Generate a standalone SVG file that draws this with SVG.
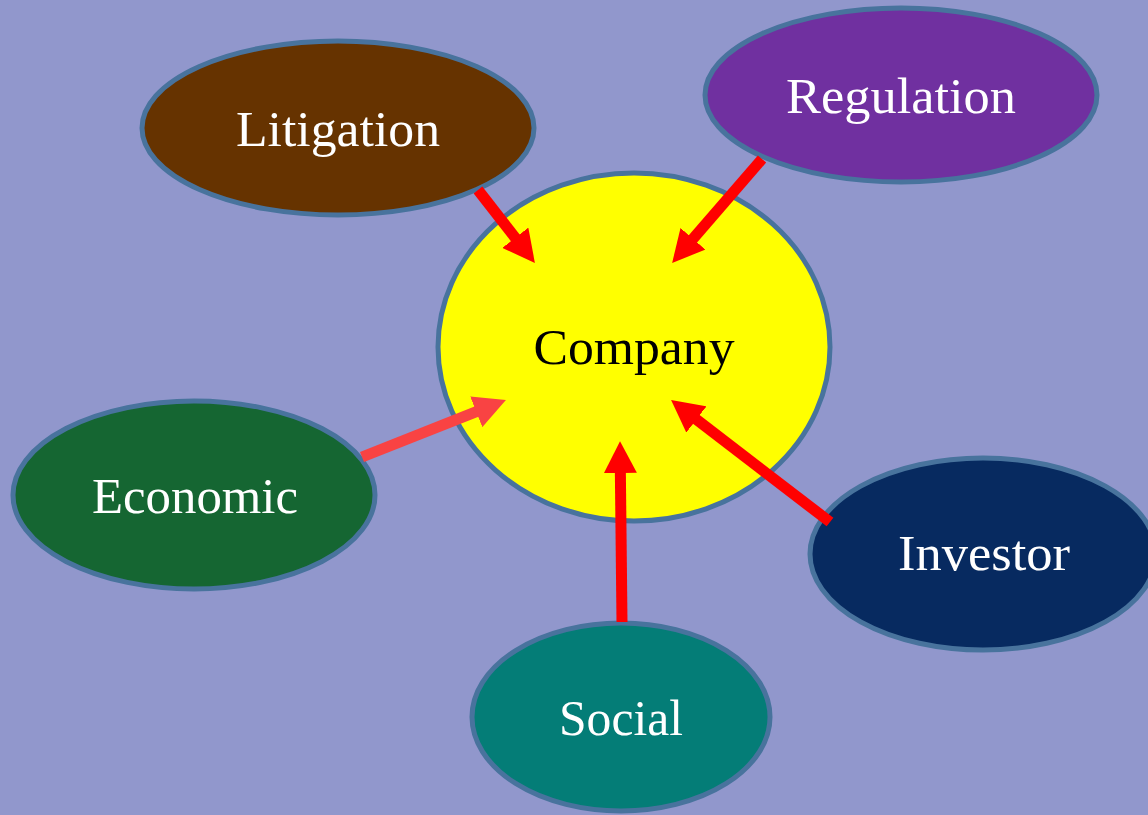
<svg xmlns="http://www.w3.org/2000/svg" width="1148" height="815" viewBox="0 0 1148 815">
<defs>
<style>
.node ellipse{stroke:#48739D;stroke-width:5}
.node text{font-family:"Liberation Serif","DejaVu Serif",serif;font-size:50px;text-anchor:middle;fill:#FFFFFF}
.conn line{stroke-width:11;stroke-linecap:butt}
.red{stroke:#FF0000}
.lred{stroke:#F94343}
</style>
<marker id="ah" viewBox="0 0 2.9 3.0" refX="0.64" refY="1.5" markerWidth="2.9" markerHeight="3.0" orient="auto" markerUnits="strokeWidth">
<path d="M0,0 L2.9,1.5 L0,3.0 z" fill="#FF0000"/>
</marker>
<marker id="ahl" viewBox="0 0 2.9 3.0" refX="0.64" refY="1.5" markerWidth="2.9" markerHeight="3.0" orient="auto" markerUnits="strokeWidth">
<path d="M0,0 L2.9,1.5 L0,3.0 z" fill="#F94343"/>
</marker>
</defs>
<rect x="0" y="0" width="1148" height="815" fill="#9197CC"/>
<g id="company" class="node">
<ellipse cx="634" cy="347" rx="196" ry="174" fill="#FFFF00"/>
<text x="634" y="364" textLength="201" lengthAdjust="spacingAndGlyphs" style="fill:#000000">Company</text>
</g>
<g id="litigation" class="node">
<ellipse cx="338" cy="128" rx="196" ry="87" fill="#663300"/>
<text x="338" y="146" textLength="204" lengthAdjust="spacingAndGlyphs">Litigation</text>
</g>
<g id="regulation" class="node">
<ellipse cx="901" cy="95" rx="196" ry="87" fill="#7030A0"/>
<text x="901" y="113" textLength="230" lengthAdjust="spacingAndGlyphs">Regulation</text>
</g>
<g id="economic" class="node">
<ellipse cx="194" cy="495" rx="181" ry="94" fill="#156632"/>
<text x="195" y="513" textLength="206" lengthAdjust="spacingAndGlyphs">Economic</text>
</g>
<g id="investor" class="node">
<ellipse cx="983" cy="554" rx="173" ry="96" fill="#072A60"/>
<text x="984" y="570" textLength="172" lengthAdjust="spacingAndGlyphs">Investor</text>
</g>
<g id="social" class="node">
<ellipse cx="621" cy="717" rx="149" ry="94" fill="#047D77"/>
<text x="621" y="735" textLength="124" lengthAdjust="spacingAndGlyphs">Social</text>
</g>
<g id="connectors" class="conn">
<line class="red" x1="478" y1="190" x2="519.6" y2="243.3" marker-end="url(#ah)"/>
<line class="red" x1="762" y1="159" x2="688.4" y2="244.1" marker-end="url(#ah)"/>
<line class="lred" x1="362" y1="457" x2="482.8" y2="409.2" marker-end="url(#ahl)"/>
<line class="red" x1="622" y1="622" x2="620.3" y2="466" marker-end="url(#ah)"/>
<line class="red" x1="830" y1="522" x2="690.8" y2="415.2" marker-end="url(#ah)"/>
</g>
</svg>
